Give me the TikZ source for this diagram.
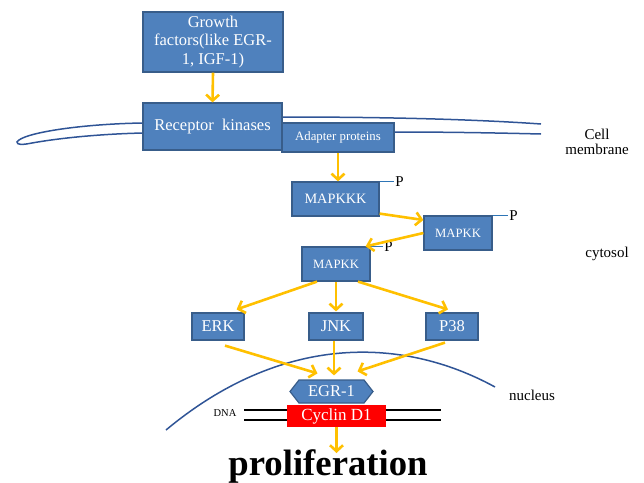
\documentclass[tikz,border=0pt]{standalone}
\usepackage{fontspec}
\setmainfont{Liberation Serif}
\usetikzlibrary{arrows.meta,shapes.symbols}
\definecolor{boxblue}{HTML}{4F81BD}
\definecolor{boxborder}{HTML}{385D8A}
\definecolor{arrorange}{HTML}{FFC000}
\definecolor{membblue}{HTML}{2F5496}
\definecolor{pblue}{HTML}{2E75B6}
\newcommand{\fs}[2]{\fontsize{#1}{#2}\selectfont}
\tikzset{
  box/.style={draw=boxborder, fill=boxblue, text=white, line width=1.2pt, inner sep=0pt, align=center},
  arr/.style={draw=arrorange, line width=2.6pt, -{Straight Barb[length=6pt,width=13pt,line width=2.6pt]}},
  memb/.style={draw=membblue, line width=1.5pt},
  pline/.style={draw=pblue, line width=1.5pt},
  plabel/.style={anchor=west, inner sep=1pt, font=\fs{15}{15}},
  lbl/.style={inner sep=0pt, align=center, font=\fs{15}{15}}
}
\begin{document}
\begin{tikzpicture}[x=1pt,y=-1pt]
\useasboundingbox (0,0) rectangle (644,482);
% membrane
\draw[memb] (143,123) .. controls (80,124) and (22,133) .. (17,142) .. controls (17,145) and (22,145) .. (32,143) .. controls (60,138) and (100,134) .. (143,133);
\draw[memb] (282,117) .. controls (380,117) and (470,119) .. (541,124);
\draw[memb] (394,132) .. controls (450,132) and (500,133) .. (541,134);
% nucleus
\draw[memb] (166,430) .. controls (280,335) and (400,335) .. (495,387);
% DNA
\coordinate (dnaA1) at (244,410);
\coordinate (dnaB1) at (441,410);
\coordinate (dnaA2) at (244,420);
\coordinate (dnaB2) at (441,420);
\draw[line width=1.8pt] (dnaA1) -- (dnaB1);
\draw[line width=1.8pt] (dnaA2) -- (dnaB2);
\node[inner sep=0pt, font=\fs{10.5}{10.5}] (dna) at (225,413) {DNA};
% boxes
\node[box, minimum width=140pt, minimum height=60pt, font=\fs{16.5}{18.5}] (growth) at (213,42) {Growth\\factors(like EGR-\\1, IGF-1)};
\node[box, minimum width=139pt, minimum height=47pt, font=\fs{16.5}{18}] (receptor) at (212.5,126.5) {Receptor\ \ kinases};
\node[box, minimum width=112pt, minimum height=29pt, font=\fs{12.8}{14}] (adapter) at (338,137.5) {Adapter proteins};
\node[box, minimum width=87pt, minimum height=34pt, font=\fs{14.3}{15}] (mapkkk) at (335.5,199) {MAPKKK};
\node[box, minimum width=68pt, minimum height=34pt, font=\fs{12.7}{14}] (mapkk1) at (458,233) {MAPKK};
\node[box, minimum width=68pt, minimum height=34pt, font=\fs{12.7}{14}] (mapkk2) at (336,264) {MAPKK};
\node[box, minimum width=52pt, minimum height=27pt, font=\fs{16.5}{17}] (erk) at (218,326.5) {ERK};
\node[box, minimum width=54pt, minimum height=27pt, font=\fs{16.5}{17}] (jnk) at (336,326.5) {JNK};
\node[box, minimum width=52pt, minimum height=27pt, font=\fs{16.5}{17}] (p38) at (452,326.5) {P38};
\node[box, shape=signal, signal to=east and west, signal pointer angle=104, minimum width=83pt, minimum height=23pt, font=\fs{16.5}{17}] (egr) at (331.5,391.5) {EGR-1};
\node[fill=red, text=white, inner sep=0pt, minimum width=99pt, minimum height=22pt, font=\fs{17}{17}] (cyclin) at (336.5,416) {Cyclin D1};
% P tags
\draw[pline] (mapkkk.north east) -- ++(14,0) node[plabel] (pa) {P};
\draw[pline] (mapkk1.north east) -- ++(15,0) node[plabel] (pb) {P};
\draw[pline] (mapkk2.north east) -- ++(12,0) node[plabel] (pc) {P};
% labels
\node[lbl] (cellmem) at (597,142) {Cell\\membrane};
\node[lbl] (cytosol) at (607,254) {cytosol};
\node[lbl] (nucleus) at (532,395) {nucleus};
\node[inner sep=0pt, anchor=base, font=\bfseries\fs{36.7}{37}] (prolif) at (328,475) {proliferation};
\coordinate (prolTop) at (336.5,453);
% arrows
\draw[arr] (growth.south) -- (receptor.north);
\draw[arr] (adapter.south) -- (adapter.south |- mapkkk.north);
\draw[arr] ([yshift=3pt]mapkkk.south east) -- ([yshift=13pt]mapkk1.west);
\draw[arr] (mapkk1.west) -- ([xshift=-5pt]mapkk2.north east);
\draw[arr] ([xshift=-19pt]mapkk2.south) -- ([xshift=-8pt,yshift=3pt]erk.north east);
\draw[arr] (mapkk2.south) -- ([yshift=1pt]jnk.north);
\draw[arr] ([xshift=22pt]mapkk2.south) -- ([xshift=-4pt,yshift=3pt]p38.north);
\draw[arr] ([xshift=7pt,yshift=-5pt]erk.south) -- ([xshift=-14pt,yshift=6pt]egr.north);
\draw[arr] ([xshift=-2pt]jnk.south) -- ([xshift=-2pt,yshift=4pt]jnk.south |- egr.north);
\draw[arr] ([xshift=-7pt,yshift=-2pt]p38.south) -- ([xshift=26pt,yshift=8pt]egr.north);
\draw[arr] (cyclin.south) -- (prolTop);
\end{tikzpicture}
\end{document}
